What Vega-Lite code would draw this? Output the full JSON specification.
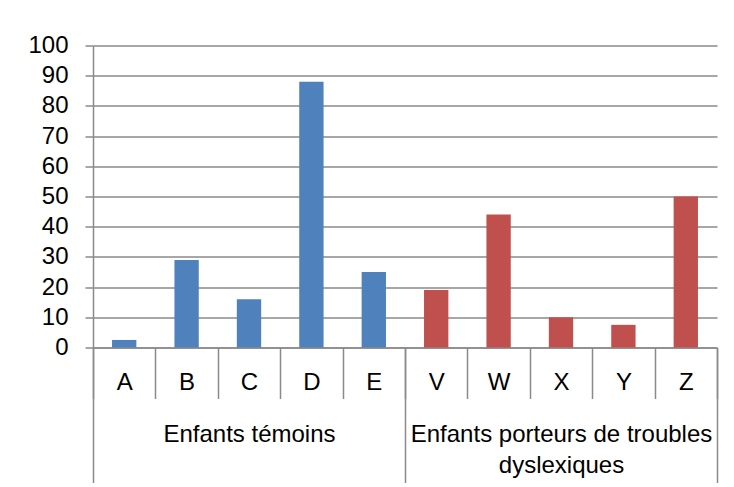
{
  "$schema": "https://vega.github.io/schema/vega-lite/v6.json",
  "width": 624,
  "height": 302,
  "autosize": {"type": "none"},
  "padding": {"left": 93, "top": 45.5, "right": 17, "bottom": 139.5},
  "background": "white",
  "config": {
    "view": {"stroke": null},
    "axis": {
      "labelFont": "Liberation Sans",
      "labelFontSize": 24,
      "labelColor": "#000000",
      "domainColor": "#8a8a8a",
      "tickColor": "#8a8a8a",
      "gridColor": "#8a8a8a",
      "gridOpacity": 1,
      "domainWidth": 1.5,
      "tickWidth": 1.5,
      "gridWidth": 1.5
    }
  },
  "data": {
    "values": [
      {"enfant": "A", "groupe": "Enfants témoins", "valeur": 2.5},
      {"enfant": "B", "groupe": "Enfants témoins", "valeur": 29},
      {"enfant": "C", "groupe": "Enfants témoins", "valeur": 16},
      {"enfant": "D", "groupe": "Enfants témoins", "valeur": 88},
      {"enfant": "E", "groupe": "Enfants témoins", "valeur": 25},
      {"enfant": "V", "groupe": "Enfants porteurs de troubles dyslexiques", "valeur": 19},
      {"enfant": "W", "groupe": "Enfants porteurs de troubles dyslexiques", "valeur": 44},
      {"enfant": "X", "groupe": "Enfants porteurs de troubles dyslexiques", "valeur": 10},
      {"enfant": "Y", "groupe": "Enfants porteurs de troubles dyslexiques", "valeur": 7.5},
      {"enfant": "Z", "groupe": "Enfants porteurs de troubles dyslexiques", "valeur": 50}
    ]
  },
  "layer": [
    {
      "mark": {"type": "bar", "width": {"band": 0.39}},
      "encoding": {
        "x": {
          "field": "enfant",
          "type": "nominal",
          "sort": null,
          "scale": {"paddingInner": 0, "paddingOuter": 0},
          "axis": {
            "title": null,
            "orient": "bottom",
            "labelAngle": 0,
            "tickBand": "extent",
            "tickSize": 51,
            "labelPadding": -16,
            "labelBaseline": "middle",
            "labelOverlap": false,
            "grid": false
          }
        },
        "y": {
          "field": "valeur",
          "type": "quantitative",
          "scale": {"domain": [0, 100], "nice": false},
          "axis": {
            "title": null,
            "values": [0, 10, 20, 30, 40, 50, 60, 70, 80, 90, 100],
            "tickSize": 8,
            "labelPadding": 17,
            "labelOverlap": false,
            "labelFlush": false,
            "grid": true
          }
        },
        "color": {
          "field": "groupe",
          "type": "nominal",
          "scale": {
            "domain": ["Enfants témoins", "Enfants porteurs de troubles dyslexiques"],
            "range": ["#4F81BD", "#C0504D"]
          },
          "legend": null
        }
      }
    },
    {
      "mark": {"type": "text", "opacity": 0},
      "encoding": {
        "x": {
          "field": "groupe",
          "type": "nominal",
          "sort": null,
          "scale": {"paddingInner": 0, "paddingOuter": 0},
          "axis": {
            "title": null,
            "orient": "bottom",
            "labelAngle": 0,
            "tickBand": "extent",
            "tickSize": 135,
            "domain": false,
            "grid": false,
            "labelPadding": -60,
            "labelBaseline": "top",
            "labelLimit": 0,
            "labelOverlap": false,
            "labelFlush": false,
            "labelLineHeight": 31,
            "labelExpr": "datum.label == 'Enfants porteurs de troubles dyslexiques' ? ['Enfants porteurs de troubles', 'dyslexiques'] : datum.label"
          }
        },
        "text": {"value": ""}
      }
    }
  ],
  "resolve": {"scale": {"x": "independent"}, "axis": {"x": "independent"}}
}
